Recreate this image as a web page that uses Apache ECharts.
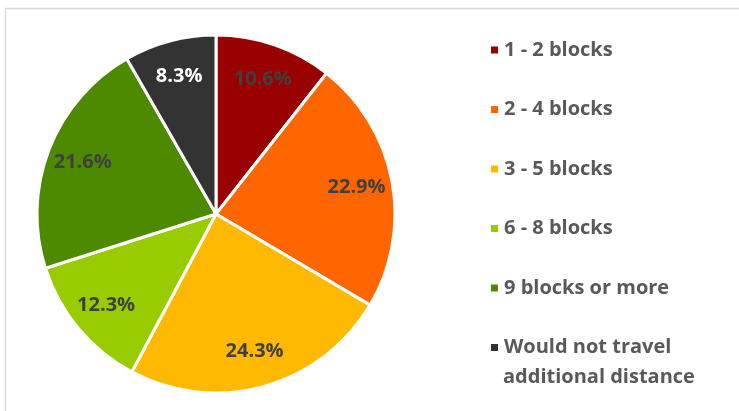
<!DOCTYPE html>
<html>
<head>
<meta charset="utf-8">
<script src="https://cdn.jsdelivr.net/npm/echarts@6/dist/echarts.min.js"></script>
<style>
  html, body { margin: 0; padding: 0; background: #fff; }
  #graph01 { width: 739px; height: 411px; }
</style>
</head>
<body>
<div id="graph01"></div>
<script>
var categories = ['1 - 2 blocks', '2 - 4 blocks', '3 - 5 blocks', '6 - 8 blocks', '9 blocks or more', 'Would not travel\nadditional distance'];
var shares = [10.6, 22.9, 24.3, 12.3, 21.6, 8.3];
var colors = ['#990000', '#FF6600', '#FFB900', '#99CC00', '#4E8A00', '#333333'];
var labelColors = ['#404040', '#404040', '#404040', '#404040', '#404040', '#ffffff'];

var FONT = '"Open Sans", Lato, sans-serif';
var center = [216, 214];

var sliceData = categories.map(function (name, i) {
    return { name: name, value: shares[i], itemStyle: { color: colors[i] } };
});
// invisible twin pie, only used so the inside labels sit further out
var labelData = categories.map(function (name, i) {
    return {
        name: name,
        value: shares[i],
        itemStyle: { color: 'rgba(0,0,0,0)' },
        label: { color: labelColors[i] }
    };
});

// legend shows the first line next to the marker, the rest goes below as plain text
var lastParts = categories[categories.length - 1].split('\n');

var myChart = echarts.init(document.getElementById('graph01'), null, { renderer: 'canvas' });
var option = {
    animation: false,
    color: colors,
    graphic: [
        {
            type: 'rect',
            silent: true,
            shape: { x: 5.5, y: 8.5, width: 900, height: 600 },
            style: { fill: 'none', stroke: '#d9d9d9', lineWidth: 1.5 }
        },
        {
            type: 'text',
            silent: true,
            left: 503,
            top: 367,
            style: {
                text: lastParts.slice(1).join('\n'),
                font: 'bold 20px ' + FONT,
                fill: '#595959'
            }
        }
    ],
    legend: {
        orient: 'vertical',
        left: 484,
        top: 30,
        height: 380,
        itemWidth: 9,
        itemHeight: 9,
        itemGap: 29.5,
        icon: 'rect',
        textStyle: {
            fontFamily: FONT,
            fontSize: 20,
            fontWeight: 'bold',
            color: '#595959',
            lineHeight: 30
        },
        formatter: function (name) { return name.split('\n')[0]; },
        data: categories
    },
    series: [
        {
            type: 'pie',
            center: center,
            radius: [0, 179],
            startAngle: 90,
            clockwise: true,
            silent: true,
            itemStyle: { borderColor: '#ffffff', borderWidth: 3 },
            label: { show: false },
            labelLine: { show: false },
            data: sliceData
        },
        {
            type: 'pie',
            center: center,
            radius: [0, 280],
            startAngle: 90,
            clockwise: true,
            silent: true,
            legendHoverLink: false,
            label: {
                show: true,
                position: 'inside',
                fontFamily: FONT,
                fontSize: 20,
                fontWeight: 'bold',
                formatter: function (p) { return p.value.toFixed(1) + '%'; }
            },
            labelLine: { show: false },
            data: labelData
        }
    ]
};
myChart.setOption(option);
</script>
</body>
</html>
